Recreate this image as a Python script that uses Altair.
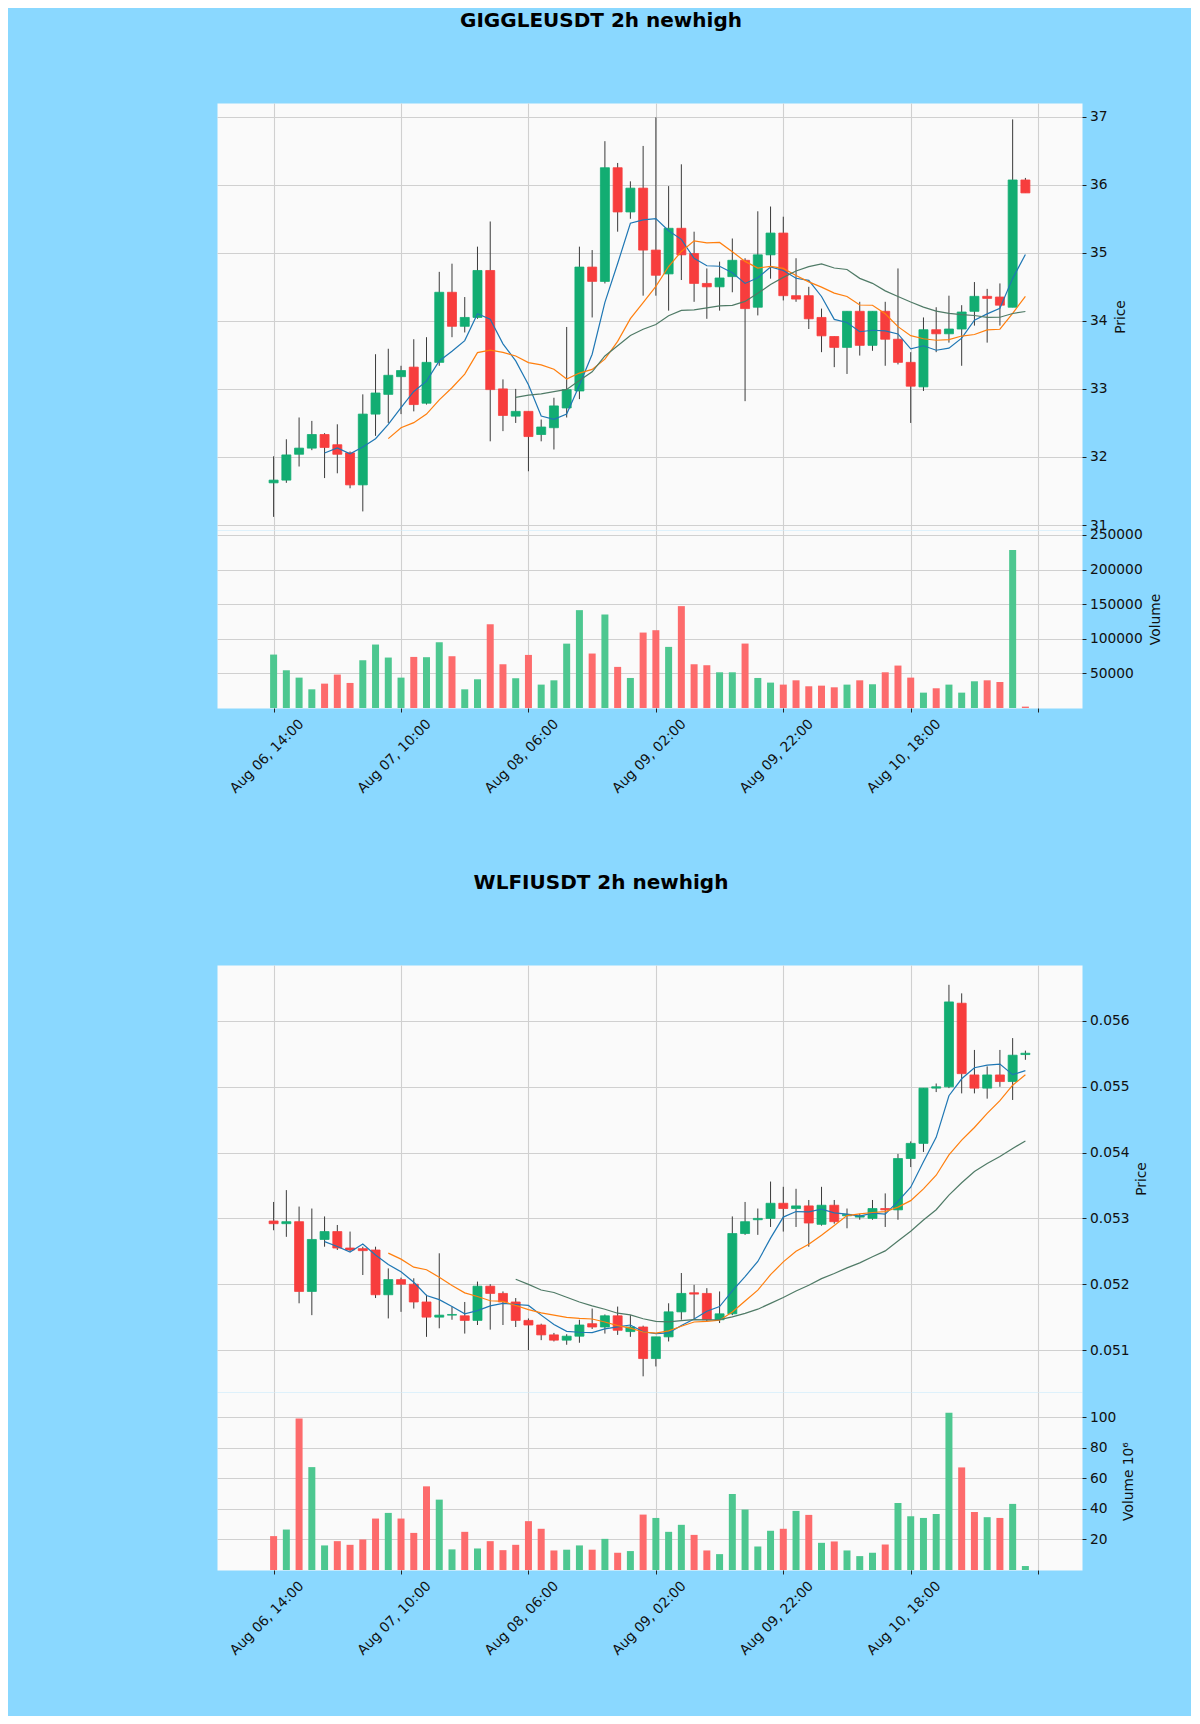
import altair as alt
import pandas as pd

# ---------------- data ----------------
IDX = list(range(60))
XTICK_POS = [0, 10, 20, 30, 40, 50, 60]
XTICK_LABELS = ["Aug 06, 14:00", "Aug 07, 10:00", "Aug 08, 06:00", "Aug 09, 02:00",
                "Aug 09, 22:00", "Aug 10, 18:00", ""]

# GIGGLEUSDT 2h
G_OPEN = [31.62, 31.66, 32.04, 32.13, 32.33, 32.18, 32.06, 31.59, 32.63, 32.92,
          33.18, 33.32, 32.79, 33.39, 34.42, 33.92, 34.05, 34.74, 33.00, 32.60,
          32.67, 32.33, 32.43, 32.72, 32.97, 34.79, 34.58, 36.25, 35.60, 35.95,
          35.04, 34.69, 35.36, 34.99, 34.55, 34.50, 34.65, 34.89, 34.20, 34.97,
          35.29, 34.37, 34.37, 34.05, 33.77, 33.61, 34.14, 33.64, 34.14, 33.73,
          33.39, 33.03, 33.87, 33.81, 33.88, 34.14, 34.36, 34.35, 34.20, 36.07]
G_HIGH = [32.01, 32.26, 32.58, 32.53, 32.35, 32.48, 32.08, 32.92, 33.51, 33.59,
          33.34, 33.73, 33.76, 34.72, 34.84, 34.35, 35.09, 35.46, 33.14, 33.00,
          32.67, 32.55, 32.87, 33.91, 35.09, 35.04, 36.64, 36.32, 36.05, 36.57,
          36.99, 35.98, 36.30, 35.31, 34.77, 34.87, 35.21, 34.92, 35.61, 35.68,
          35.53, 34.92, 34.50, 34.18, 33.77, 34.14, 34.28, 34.14, 34.28, 34.77,
          33.54, 34.05, 34.20, 34.37, 34.23, 34.57, 34.47, 34.55, 36.96, 36.10]
G_LOW = [31.12, 31.62, 31.86, 32.10, 31.69, 31.76, 31.54, 31.20, 32.31, 32.50,
         32.63, 32.67, 32.77, 33.34, 33.76, 33.83, 34.03, 32.23, 32.38, 32.50,
         31.79, 32.23, 32.11, 32.58, 32.85, 34.05, 34.55, 35.31, 35.50, 34.37,
         34.37, 34.15, 34.60, 34.28, 34.03, 34.15, 34.42, 32.82, 34.08, 34.62,
         34.30, 34.28, 33.88, 33.54, 33.32, 33.22, 33.49, 33.56, 33.34, 33.36,
         32.50, 32.97, 33.54, 33.68, 33.34, 33.93, 33.68, 33.93, 34.20, 35.88]
G_CLOSE = [31.66, 32.03, 32.13, 32.33, 32.14, 32.04, 31.59, 32.63, 32.94, 33.20,
           33.27, 32.77, 33.39, 34.42, 33.92, 34.05, 34.74, 32.99, 32.61, 32.67,
           32.30, 32.44, 32.75, 32.99, 34.79, 34.58, 36.25, 35.60, 35.95, 35.04,
           34.67, 35.36, 34.97, 34.55, 34.50, 34.63, 34.89, 34.18, 34.97, 35.29,
           34.37, 34.32, 34.03, 33.78, 33.61, 34.14, 33.64, 34.14, 33.73, 33.39,
           33.04, 33.87, 33.81, 33.88, 34.13, 34.36, 34.33, 34.23, 36.07, 35.88]
G_VOL = [77200, 54500, 43900, 27000, 35200, 48300, 36200, 69000, 91700, 72900,
         43900, 73800, 73400, 95000, 74800, 27000, 41500, 121000, 63200, 43000,
         76700, 33800, 40000, 93000, 141400, 78700, 135100, 59400, 43400, 109000,
         112400, 88300, 147200, 63200, 61800, 51600, 51600, 93100, 43400, 36700,
         33800, 40000, 31400, 32300, 29900, 33800, 40000, 34300, 51600, 61300,
         43900, 22200, 28500, 33800, 22200, 38600, 40000, 37600, 228300, 2000]

# WLFIUSDT 2h
W_OPEN = [0.05296, 0.05292, 0.05295, 0.05189, 0.05268, 0.05280, 0.05255, 0.05254, 0.05252, 0.05184,
          0.05207, 0.05200, 0.05173, 0.05150, 0.05153, 0.05152, 0.05145, 0.05197, 0.05186, 0.05173,
          0.05145, 0.05138, 0.05123, 0.05115, 0.05121, 0.05140, 0.05135, 0.05152, 0.05128, 0.05135,
          0.05087, 0.05120, 0.05158, 0.05187, 0.05186, 0.05146, 0.05155, 0.05277, 0.05298, 0.05300,
          0.05323, 0.05315, 0.05319, 0.05291, 0.05320, 0.05304, 0.05302, 0.05300, 0.05315, 0.05313,
          0.05391, 0.05414, 0.05498, 0.05500, 0.05627, 0.05518, 0.05498, 0.05518, 0.05508, 0.05549]
W_HIGH = [0.05325, 0.05343, 0.05318, 0.05315, 0.05303, 0.05290, 0.05280, 0.05257, 0.05257, 0.05224,
          0.05210, 0.05209, 0.05184, 0.05247, 0.05166, 0.05173, 0.05204, 0.05200, 0.05189, 0.05179,
          0.05148, 0.05140, 0.05126, 0.05124, 0.05146, 0.05163, 0.05154, 0.05166, 0.05153, 0.05137,
          0.05120, 0.05171, 0.05217, 0.05199, 0.05194, 0.05189, 0.05303, 0.05325, 0.05315, 0.05356,
          0.05348, 0.05345, 0.05328, 0.05348, 0.05328, 0.05315, 0.05307, 0.05328, 0.05338, 0.05398,
          0.05417, 0.05498, 0.05505, 0.05655, 0.05642, 0.05556, 0.05531, 0.05556, 0.05574, 0.05555]
W_LOW = [0.05282, 0.05272, 0.05171, 0.05153, 0.05257, 0.05252, 0.05250, 0.05214, 0.05179, 0.05148,
         0.05158, 0.05163, 0.05120, 0.05133, 0.05146, 0.05125, 0.05138, 0.05131, 0.05138, 0.05135,
         0.05100, 0.05115, 0.05113, 0.05108, 0.05111, 0.05132, 0.05125, 0.05123, 0.05120, 0.05060,
         0.05075, 0.05113, 0.05146, 0.05146, 0.05144, 0.05141, 0.05153, 0.05275, 0.05275, 0.05287,
         0.05280, 0.05287, 0.05257, 0.05289, 0.05292, 0.05285, 0.05298, 0.05298, 0.05287, 0.05298,
         0.05378, 0.05401, 0.05492, 0.05498, 0.05490, 0.05490, 0.05482, 0.05500, 0.05480, 0.05541]
W_CLOSE = [0.05292, 0.05295, 0.05189, 0.05268, 0.05280, 0.05255, 0.05252, 0.05251, 0.05184, 0.05207,
           0.05200, 0.05173, 0.05150, 0.05153, 0.05154, 0.05145, 0.05197, 0.05186, 0.05173, 0.05145,
           0.05138, 0.05123, 0.05115, 0.05121, 0.05138, 0.05135, 0.05152, 0.05130, 0.05135, 0.05087,
           0.05120, 0.05158, 0.05186, 0.05185, 0.05146, 0.05155, 0.05277, 0.05295, 0.05300, 0.05323,
           0.05315, 0.05319, 0.05293, 0.05320, 0.05295, 0.05306, 0.05304, 0.05315, 0.05313, 0.05391,
           0.05414, 0.05498, 0.05500, 0.05629, 0.05520, 0.05498, 0.05518, 0.05508, 0.05548, 0.05551]
W_VOL_M = [22.2, 26.5, 99.3, 67.4, 16.1, 18.9, 16.5, 20.0, 33.7, 37.4,
           33.7, 24.3, 54.8, 46.1, 13.5, 25.0, 14.1, 18.9, 13.0, 16.5,
           32.0, 27.0, 12.8, 13.3, 16.1, 13.3, 20.4, 11.3, 12.4, 36.3,
           34.1, 25.0, 29.6, 23.0, 12.8, 10.4, 49.8, 39.6, 15.4, 25.7,
           27.0, 38.7, 36.1, 17.8, 18.7, 12.8, 9.1, 11.3, 16.7, 43.9,
           35.2, 34.1, 36.7, 103.0, 67.2, 38.0, 34.6, 34.1, 43.3, 2.6]

MA_WINDOWS = [5, 10, 20]

# ---------------- style ----------------
UP, DOWN = "#12ad72", "#f73d3d"
VUP, VDOWN = "#4dc790", "#fd6b6c"
WICK = "#3a3a3a"
MA_COLORS = ["#1f77b4", "#ff7f0e", "#4f7a66"]
FONT = "DejaVu Sans"
BG = "#8ad8ff"
PLOT_W, PRICE_H, VOL_H, GAP = 865, 427, 178, 257
XDOM = [-4.05, 63.05]
FS = 13.8

label_js = "[" + ",".join("'%s'" % t for t in XTICK_LABELS) + "]"
XLABEL_EXPR = label_js + "[round(datum.value / 10)]"

up_cond = "datum.close >= datum.open"


def xscale():
    return alt.Scale(domain=XDOM, nice=False, zero=False)


def price_panel(title, df, ydom, yticks, yfmt):
    base = alt.Chart(df)
    ysc = alt.Scale(domain=ydom, nice=False, zero=False)

    def yax():
        return alt.Axis(orient="right", values=yticks, format=yfmt, title="Price",
                        grid=True, titleAngle=270, titleBaseline="top", titlePadding=6)

    def xax():
        return alt.X("i:Q", scale=xscale(),
                     axis=alt.Axis(values=XTICK_POS, labels=False, ticks=False, domain=False,
                                   grid=True, title=None))

    wick = base.mark_rule(color=WICK, strokeWidth=1).encode(
        x=xax(),
        y=alt.Y("low:Q", scale=ysc, axis=yax(), title="Price"),
        y2="high:Q",
    )
    body = base.mark_bar(size=9, strokeWidth=0.8).encode(
        x=xax(),
        y=alt.Y("open:Q", scale=ysc, axis=yax(), title="Price"),
        y2="close:Q",
        color=alt.when(up_cond).then(alt.value(UP)).otherwise(alt.value(DOWN)),
        stroke=alt.when(up_cond).then(alt.value(UP)).otherwise(alt.value(DOWN)),
    )
    lines = []
    for w, col in zip(MA_WINDOWS, MA_COLORS):
        lines.append(
            base.transform_window(ma="mean(close)", n="count()", frame=[-(w - 1), 0],
                                  sort=[alt.SortField("i")])
            .transform_filter("datum.n >= %d" % w)
            .mark_line(color=col, strokeWidth=1.2)
            .encode(x=xax(), y=alt.Y("ma:Q", scale=ysc, axis=yax(), title="Price"))
        )
    return alt.layer(wick, body, *lines).properties(
        width=PLOT_W, height=PRICE_H,
        title=alt.TitleParams(title, font=FONT, fontSize=20, fontWeight="bold", color="#000000",
                              anchor="middle", frame="group", dx=-48.5, offset=72),
    )


def vol_panel(df, vdom, vticks, vfmt, vtitle):
    return alt.Chart(df).mark_bar(size=7).encode(
        x=alt.X("i:Q", scale=xscale(),
                axis=alt.Axis(values=XTICK_POS, labelExpr=XLABEL_EXPR, labelAngle=315,
                              labelAlign="center", labelBaseline="middle", labelPadding=44,
                              labelOffset=-7, labelFlush=False, labelOverlap=False, ticks=True,
                              grid=True, domain=False, title=None)),
        y=alt.Y("vol:Q", scale=alt.Scale(domain=vdom, nice=False, zero=True),
                axis=alt.Axis(orient="right", values=vticks, format=vfmt, title=vtitle,
                              grid=True, titleAngle=270, titleBaseline="top", titlePadding=6)),
        color=alt.when(up_cond).then(alt.value(VUP)).otherwise(alt.value(VDOWN)),
    ).properties(width=PLOT_W, height=VOL_H)


g_df = pd.DataFrame({"i": IDX, "open": G_OPEN, "high": G_HIGH, "low": G_LOW,
                     "close": G_CLOSE, "vol": G_VOL})
w_df = pd.DataFrame({"i": IDX, "open": W_OPEN, "high": W_HIGH, "low": W_LOW,
                     "close": W_CLOSE, "vol": W_VOL_M})

p1 = price_panel("GIGGLEUSDT 2h newhigh", g_df, [30.927, 37.201], [31, 32, 33, 34, 35, 36, 37], ".0f")
v1 = vol_panel(g_df, [0, 257200], [50000, 100000, 150000, 200000, 250000], "d", "Volume")
p2 = price_panel("WLFIUSDT 2h newhigh", w_df, [0.050362, 0.056851],
                 [0.051, 0.052, 0.053, 0.054, 0.055, 0.056], ".3f")
v2 = vol_panel(w_df, [0, 116.6], [20, 40, 60, 80, 100], "d", "Volume  10\u2076")

spacer = alt.Chart(pd.DataFrame({"a": [0]})).mark_point(opacity=0).encode(
    x=alt.X("a:Q", axis=None), y=alt.Y("a:Q", axis=None)
).properties(width=PLOT_W, height=GAP, view=alt.ViewBackground(fill="transparent", stroke="transparent"))

chart = alt.vconcat(p1, v1, spacer, p2, v2, spacing=0, bounds="flush").resolve_scale(
    x="independent", y="independent"
).properties(
    background=BG,
    padding={"left": 208, "top": 2, "right": 28, "bottom": 58},
).configure_view(
    fill="#fafafa", stroke="transparent"
).configure_axis(
    labelFont=FONT, labelFontSize=FS, labelColor="#111111",
    titleFont=FONT, titleFontSize=FS, titleFontWeight="normal", titleColor="#111111",
    gridColor="#d0d0d0", gridWidth=1.1, tickColor="#222222", tickSize=4, tickWidth=1,
    domain=False, labelPadding=3.5,
)

chart.save("out.html", embed_options={"renderer": "svg", "actions": False})
